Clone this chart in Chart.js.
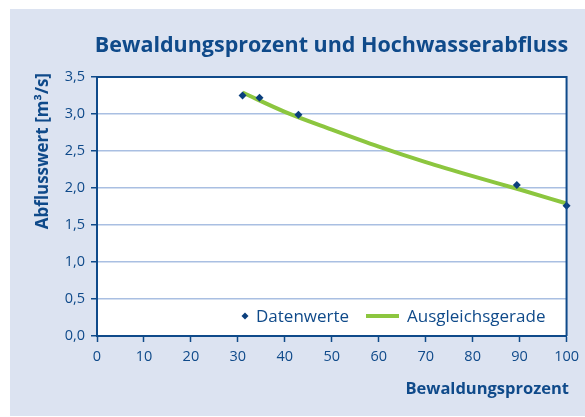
<!DOCTYPE html>
<html><head><meta charset="utf-8">
<script src="https://cdn.jsdelivr.net/npm/chart.js@4/dist/chart.umd.min.js"></script>
<style>html,body{margin:0;padding:0;background:#fff;}#wrap{width:585px;height:417px;position:relative;}</style>
</head><body><div id="wrap"><canvas id="c" width="585" height="417"></canvas></div>
<script>
const titleText = "Bewaldungsprozent und Hochwasserabfluss";
const xAxisTitle = "Bewaldungsprozent";
const yAxisTitle = "Abflusswert [m³/s]";
const seriesNames = ["Datenwerte", "Ausgleichsgerade"];
const dataX = [31, 34.6, 42.9, 89.4, 100];
const dataY = [3.25, 3.22, 2.99, 2.04, 1.76];
const fitX = [31, 40, 50, 60, 70, 80, 90, 100];
const fitY = [3.29, 3.03, 2.79, 2.56, 2.35, 2.16, 1.98, 1.79];
const xTicks = [0, 10, 20, 30, 40, 50, 60, 70, 80, 90, 100];
const yTicks = [0, 0.5, 1.0, 1.5, 2.0, 2.5, 3.0, 3.5];

const DARK = "#0f4a8a";
const MARK = "#0b3f7d";
const GREEN = "#8cc63f";
const GRID = "#a9bfe2";
const BG = "#dce3f1";
const FONT = "'Open Sans', 'Noto Sans', sans-serif";

const decor = {
  id: 'decor',
  beforeDraw(chart) {
    const ctx = chart.ctx, a = chart.chartArea;
    ctx.save();
    ctx.fillStyle = BG;
    ctx.fillRect(10, 9, 575, 407);
    ctx.fillStyle = '#ffffff';
    ctx.fillRect(a.left, a.top, a.right - a.left, a.bottom - a.top);
    ctx.restore();
  },
  afterDraw(chart) {
    const ctx = chart.ctx, a = chart.chartArea;
    ctx.save();
    ctx.strokeStyle = DARK;
    ctx.lineWidth = 2;
    ctx.beginPath();
    ctx.moveTo(a.left, a.top); ctx.lineTo(a.right, a.top); ctx.lineTo(a.right, a.bottom);
    ctx.stroke();
    // title
    ctx.fillStyle = DARK;
    ctx.font = "bold 21.5px " + FONT;
    ctx.textAlign = 'center';
    ctx.textBaseline = 'alphabetic';
    ctx.fillText(titleText, 331.5, 52);
    // x axis title
    ctx.font = "bold 16.5px " + FONT;
    ctx.textAlign = 'right';
    ctx.fillText(xAxisTitle, 569, 394);
    // y axis title
    ctx.translate(48, 73);
    ctx.rotate(-Math.PI / 2);
    ctx.textAlign = 'right';
    ctx.font = "bold 17px " + FONT;
    ctx.fillText(yAxisTitle, 0, 0);
    ctx.restore();
    // legend
    ctx.save();
    ctx.fillStyle = MARK;
    ctx.beginPath();
    const lx = 245, ly = 316, r = 3.5;
    ctx.moveTo(lx, ly - r); ctx.lineTo(lx + r, ly); ctx.lineTo(lx, ly + r); ctx.lineTo(lx - r, ly); ctx.closePath();
    ctx.fill();
    ctx.font = "17px " + FONT;
    ctx.fillStyle = DARK;
    ctx.textAlign = 'left';
    ctx.textBaseline = 'alphabetic';
    ctx.fillText(seriesNames[0], 256, 322);
    ctx.strokeStyle = GREEN;
    ctx.lineWidth = 4;
    ctx.beginPath(); ctx.moveTo(366, 316); ctx.lineTo(399, 316); ctx.stroke();
    ctx.fillText(seriesNames[1], 407, 322);
    ctx.restore();
  }
};

new Chart(document.getElementById('c'), {
  type: 'scatter',
  data: {
    datasets: [
      {
        label: seriesNames[0],
        data: dataX.map((x, i) => ({x, y: dataY[i]})),
        pointStyle: 'rectRot',
        pointRadius: 4,
        backgroundColor: MARK,
        borderColor: MARK,
        borderWidth: 0,
        showLine: false,
        clip: false
      },
      {
        label: seriesNames[1],
        data: fitX.map((x, i) => ({x, y: fitY[i]})),
        showLine: true,
        borderColor: GREEN,
        borderWidth: 4,
        pointRadius: 0,
        tension: 0.4,
        cubicInterpolationMode: 'monotone',
        borderCapStyle: 'butt'
      }
    ]
  },
  options: {
    responsive: false,
    animation: false,
    devicePixelRatio: 1,
    layout: { padding: { left: 0, right: 18, top: 77, bottom: 0 } },
    plugins: { legend: { display: false }, title: { display: false }, tooltip: { enabled: false } },
    scales: {
      x: {
        type: 'linear', min: 0, max: 100,
        afterBuildTicks(s) { s.ticks = xTicks.map(v => ({value: v})); },
        afterFit(s) { s.height = 81; },
        grid: { drawOnChartArea: false, tickLength: 6, tickColor: DARK, tickWidth: 1.5 },
        border: { color: DARK, width: 2 },
        ticks: { color: DARK, font: { size: 14.5, family: FONT }, padding: 6, maxRotation: 0, autoSkip: false }
      },
      y: {
        type: 'linear', min: 0, max: 3.5,
        afterBuildTicks(s) { s.ticks = yTicks.map(v => ({value: v})); },
        afterFit(s) { s.width = 97; },
        grid: { color: GRID, lineWidth: 1.5, tickLength: 6, tickColor: DARK, tickWidth: 1.5 },
        border: { color: DARK, width: 2 },
        ticks: { color: DARK, font: { size: 14.5, family: FONT }, padding: 6,
          callback: v => v.toFixed(1).replace('.', ',') }
      }
    }
  },
  plugins: [decor]
});
</script>
</body></html>
